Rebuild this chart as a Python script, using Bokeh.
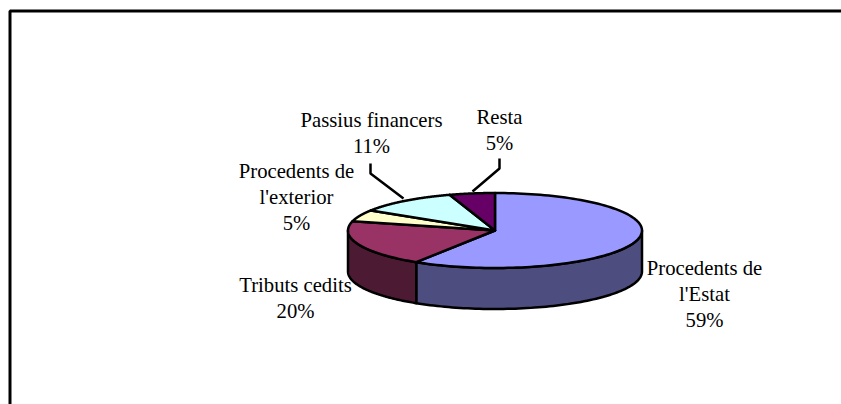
import numpy as np
from bokeh.plotting import figure
from bokeh.models import Range1d
from bokeh.embed import file_html
from bokeh.resources import INLINE
from bokeh.core.properties import value

categories = ["Procedents de l'Estat", "Tributs cedits", "Procedents de l'exterior", "Passius financers", "Resta"]
shares = [59, 20, 5, 11, 5]
top_colors = ["#9999FF", "#993366", "#FFFFCC", "#CCFFFF", "#660066"]
side_colors = ["#4D4D80", "#4D1A33", "#80806A", "#668080", "#330033"]
label_lines = [["Procedents de", "l'Estat", "59%"], ["Tributs cedits", "20%"],
               ["Procedents de", "l'exterior", "5%"], ["Passius financers", "11%"], ["Resta", "5%"]]
label_anchor = [(704, 267), (295, 284), (296, 170), (371, 119), (499, 116)]
leaders = [([370, 370, 403], [163, 173, 198]), ([499, 499, 472], [158, 168, 191])]

W, H = 841, 404
CX, CY, RX, RY, DEPTH = 494.5, 230, 147, 37.5, 41

p = figure(width=W, height=H, output_backend="svg", toolbar_location=None,
           x_range=Range1d(0, W), y_range=Range1d(H, 0), min_border=0,
           background_fill_color="white", border_fill_color="white", outline_line_color=None)
p.axis.visible = False
p.grid.visible = False

# frame: top and left edges only reach the page
p.line([9.5, 9.5, W], [H, 10.5, 10.5], line_color="black", line_width=3)

fr = np.cumsum([0] + shares) / sum(shares) * 2 * np.pi
ex = lambda a: CX + RX * np.sin(a)
ey = lambda a: CY - RY * np.cos(a)

# visible side walls (front half of the ellipse: pi/2 .. 3pi/2)
for i in range(len(shares)):
    a0, a1 = max(fr[i], np.pi / 2), min(fr[i + 1], 3 * np.pi / 2)
    if a1 > a0:
        a = np.linspace(a0, a1, 80)
        xs = np.r_[ex(a), ex(a[::-1])]
        ys = np.r_[ey(a), ey(a[::-1]) + DEPTH]
        p.patch(xs, ys, fill_color=side_colors[i], line_color="black", line_width=2.5, line_join="round")

# top faces
for i in range(len(shares)):
    a = np.linspace(fr[i], fr[i + 1], 120)
    p.patch(np.r_[CX, ex(a)], np.r_[CY, ey(a)], fill_color=top_colors[i],
            line_color="black", line_width=2.5, line_join="round")

for lx, ly in leaders:
    p.line(lx, ly, line_color="black", line_width=2.5)

for lines, (ax, ay) in zip(label_lines, label_anchor):
    for k, t in enumerate(lines):
        p.text([ax], [ay + k * 26], text=[t], text_align="center", text_baseline="middle",
               text_font=value("Liberation Serif"), text_font_size="20.7px", text_color="black")

open("out.html", "w").write(file_html(p, INLINE))
